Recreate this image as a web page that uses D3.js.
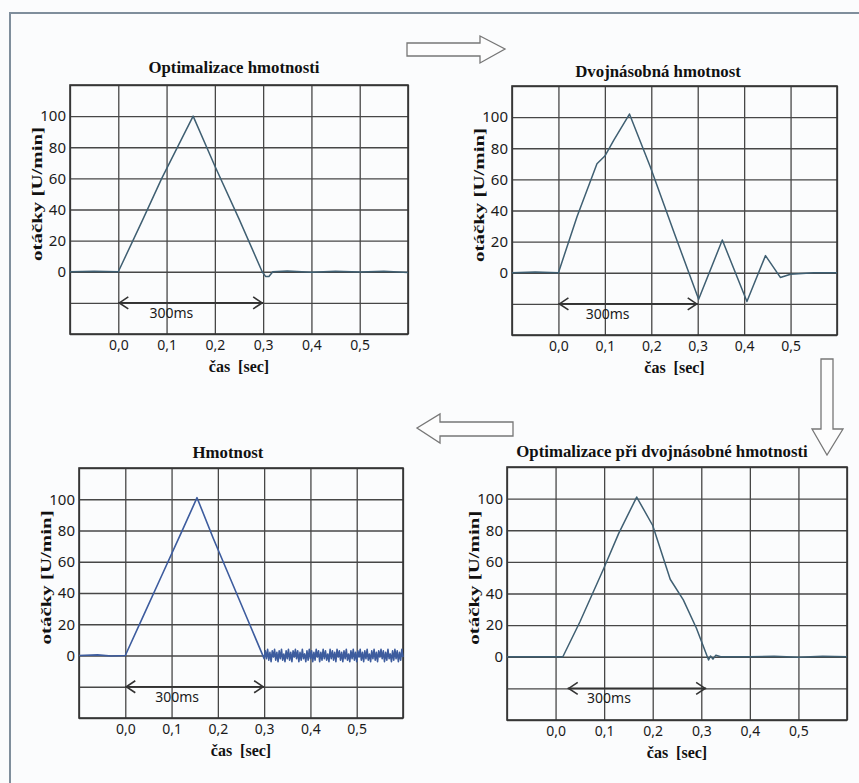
<!DOCTYPE html>
<html>
<head>
<meta charset="utf-8">
<script src="https://cdn.jsdelivr.net/npm/d3@7"></script>
<style>
  body { margin: 0; background: #fbfcfd; }
</style>
</head>
<body>
<div id="chart"></div>
<script>
// values (time in sec, speed in U/min)
const xTicks = [0, 0.1, 0.2, 0.3, 0.4, 0.5];
const yTicks = [0, 20, 40, 60, 80, 100];
const gridX = [-0.1, 0, 0.1, 0.2, 0.3, 0.4, 0.5, 0.6];
const gridY = [-40, -20, 0, 20, 40, 60, 80, 100, 120];

// Optimalizace hmotnosti
const optTime  = [-0.1, -0.05, 0, 0.05, 0.09, 0.155, 0.2, 0.25, 0.298, 0.305, 0.312, 0.32, 0.35, 0.4, 0.45, 0.5, 0.55, 0.6];
const optSpeed = [0, 0.3, 0, 33, 60, 100, 68, 34, 0, -3, -3, 0, 0.5, -0.3, 0.4, -0.2, 0.3, -0.5];

// Dvojnásobná hmotnost
const dblTime  = [-0.1, -0.05, 0, 0.04, 0.083, 0.1, 0.119, 0.153, 0.198, 0.25, 0.302, 0.353, 0.406, 0.446, 0.478, 0.5, 0.55, 0.6];
const dblSpeed = [0, 0.5, 0, 36, 70, 75, 85, 102, 68, 25, -17, 21, -18.5, 11, -3, -1, 0, 0];

// Hmotnost (ramp, then a noisy band after 0.3 s)
const hmTime  = [-0.1, -0.06, -0.03, 0, 0.04, 0.08, 0.12, 0.155, 0.19, 0.23, 0.27, 0.3,
  0.3025, 0.305, 0.3075, 0.31, 0.3125, 0.315, 0.3175, 0.32, 0.3225, 0.325,
  0.3275, 0.33, 0.3325, 0.335, 0.3375, 0.34, 0.3425, 0.345, 0.3475, 0.35,
  0.3525, 0.355, 0.3575, 0.36, 0.3625, 0.365, 0.3675, 0.37, 0.3725, 0.375,
  0.3775, 0.38, 0.3825, 0.385, 0.3875, 0.39, 0.3925, 0.395, 0.3975, 0.4,
  0.4025, 0.405, 0.4075, 0.41, 0.4125, 0.415, 0.4175, 0.42, 0.4225, 0.425,
  0.4275, 0.43, 0.4325, 0.435, 0.4375, 0.44, 0.4425, 0.445, 0.4475, 0.45,
  0.4525, 0.455, 0.4575, 0.46, 0.4625, 0.465, 0.4675, 0.47, 0.4725, 0.475,
  0.4775, 0.48, 0.4825, 0.485, 0.4875, 0.49, 0.4925, 0.495, 0.4975, 0.5,
  0.5025, 0.505, 0.5075, 0.51, 0.5125, 0.515, 0.5175, 0.52, 0.5225, 0.525,
  0.5275, 0.53, 0.5325, 0.535, 0.5375, 0.54, 0.5425, 0.545, 0.5475, 0.55,
  0.5525, 0.555, 0.5575, 0.56, 0.5625, 0.565, 0.5675, 0.57, 0.5725, 0.575,
  0.5775, 0.58, 0.5825, 0.585, 0.5875, 0.59, 0.5925, 0.595, 0.5975, 0.6];
const hmSpeed = [0, 0.4, -0.3, 0, 26, 52, 78, 101, 75, 47, 19, -2,
  3, -2, 4, -3, 2, -4, 3, -1, 4, -3,
  2, -4, 3, -2, 4, -3, 1, -4, 3, -2,
  4, -3, 2, -4, 3, -1, 4, -2, 3, -4,
  2, -3, 4, -2, 1, -4, 3, -3, 4, -2,
  3, -4, 2, -3, 4, -1, 3, -4, 2, -3,
  4, -2, 3, -3, 1, -4, 4, -2, 3, -3,
  2, -4, 4, -1, 3, -3, 2, -4, 3, -2,
  4, -3, 1, -4, 3, -2, 4, -3, 2, -4,
  3, -1, 4, -3, 2, -4, 3, -2, 4, -3,
  1, -4, 3, -2, 4, -3, 2, -4, 3, -1,
  4, -2, 3, -4, 2, -3, 4, -2, 1, -4,
  3, -3, 4, -2, 3, -4, 2, -3, 4, -1];

// Optimalizace při dvojnásobné hmotnosti
const opt2Time  = [-0.1, -0.05, 0.015, 0.05, 0.098, 0.13, 0.167, 0.2, 0.236, 0.263, 0.29, 0.315, 0.319, 0.324, 0.33, 0.34, 0.4, 0.45, 0.5, 0.55, 0.6];
const opt2Speed = [0, 0, 0, 22, 55, 78, 101, 83, 49, 36, 18, -2, 0.5, -1.5, 1, 0, 0, 0.3, -0.3, 0.3, 0];

// 300 ms span markers
const spanStart = [0, 0, 0, 0.025];
const spanEnd   = [0.3, 0.3, 0.3, 0.31];
const spanLabelAt = [0.11, 0.106, 0.112, 0.11];

const titles = ["Optimalizace hmotnosti", "Dvojnásobná hmotnost", "Hmotnost", "Optimalizace při dvojnásobné hmotnosti"];

const panels = [
  {time: optTime,  speed: optSpeed,  left: 70,  right: 408, top: 85,  bottom: 334, titleX: 234, titleY: 73,  color: "#3f5f72", lw: 1.5},
  {time: dblTime,  speed: dblSpeed,  left: 512, right: 837, top: 86,  bottom: 335, titleX: 658, titleY: 77,  color: "#3f5f72", lw: 1.5},
  {time: hmTime,   speed: hmSpeed,   left: 79,  right: 403, top: 468, bottom: 718, titleX: 228, titleY: 458, color: "#3d5c9e", lw: 1.6},
  {time: opt2Time, speed: opt2Speed, left: 507, right: 847, top: 467, bottom: 720, titleX: 662, titleY: 457, color: "#3f5f72", lw: 1.5}
];

const svg = d3.select("#chart")
  .append("svg")
  .attr("width", 859)
  .attr("height", 783);

// page border of the scan
svg.append("path")
  .attr("d", "M10,783 L10,13 L859,13")
  .attr("fill", "none")
  .attr("stroke", "#7f8e9c")
  .attr("stroke-width", 2);

// big outline arrows between the panels
const arrowStyle = sel => sel.attr("fill", "#fdfdfd").attr("stroke", "#777").attr("stroke-width", 1.3);
svg.append("path")
  .attr("d", "M407,43 L480,43 L480,36 L505,49 L480,63 L480,56 L407,56 Z")
  .call(arrowStyle);
svg.append("path")
  .attr("d", "M821,359 L833,359 L833,429 L843,429 L827,455 L812,429 L821,429 Z")
  .call(arrowStyle);
svg.append("path")
  .attr("d", "M513,422 L440,422 L440,414 L417,428 L440,443 L440,436 L513,436 Z")
  .call(arrowStyle);

const commaFmt = d => d3.format(".1f")(d).replace(".", ",");

panels.forEach(function(p, i) {
  const w = p.right - p.left,
        h = p.bottom - p.top;

  const g = svg.append("g")
    .attr("transform", `translate(${p.left},${p.top})`);

  const x = d3.scaleLinear().domain([-0.1, 0.6]).range([0, w]);
  const y = d3.scaleLinear().domain([-40, 120]).range([h, 0]);

  // grid + x labels
  const xAxis = g.append("g")
    .attr("transform", `translate(0,${h})`)
    .call(d3.axisBottom(x)
      .tickValues(gridX)
      .tickSize(-h)
      .tickPadding(6)
      .tickFormat(d => xTicks.includes(d) ? commaFmt(d) : ""));

  const yAxis = g.append("g")
    .call(d3.axisLeft(y)
      .tickValues(gridY)
      .tickSize(-w)
      .tickPadding(4)
      .tickFormat(d => yTicks.includes(d) ? d : ""));

  [xAxis, yAxis].forEach(a => {
    a.select(".domain").remove();
    a.selectAll(".tick line").attr("stroke", "#474747").attr("stroke-width", 1.3);
    a.selectAll(".tick text")
      .attr("fill", "#1a1a1a")
      .style("font-family", "'Noto Sans', 'Open Sans', sans-serif");
  });
  xAxis.selectAll(".tick text").style("font-size", "14px");
  yAxis.selectAll(".tick text").style("font-size", "15px");

  g.append("rect")
    .attr("width", w)
    .attr("height", h)
    .attr("fill", "none")
    .attr("stroke", "#333")
    .attr("stroke-width", 1.6);

  // 300ms double arrow
  const ay = y(-20);
  g.append("line")
    .attr("x1", x(spanStart[i])).attr("x2", x(spanEnd[i]))
    .attr("y1", ay).attr("y2", ay)
    .attr("stroke", "#333").attr("stroke-width", 1.6);
  g.append("path")
    .attr("d", `M${x(spanStart[i]) + 10},${ay - 6} L${x(spanStart[i]) + 1},${ay} L${x(spanStart[i]) + 10},${ay + 6}`)
    .attr("fill", "none").attr("stroke", "#333").attr("stroke-width", 1.6);
  g.append("path")
    .attr("d", `M${x(spanEnd[i]) - 10},${ay - 6} L${x(spanEnd[i]) - 1},${ay} L${x(spanEnd[i]) - 10},${ay + 6}`)
    .attr("fill", "none").attr("stroke", "#333").attr("stroke-width", 1.6);
  g.append("text")
    .attr("x", x(spanLabelAt[i]))
    .attr("y", ay + 15)
    .attr("text-anchor", "middle")
    .style("font-family", "'Noto Sans', 'Open Sans', sans-serif")
    .style("font-size", "14px")
    .attr("fill", "#1a1a1a")
    .text("300ms");

  // the measured speed trace
  const data = p.time.map((t, k) => ({t: t, v: p.speed[k]}));
  g.append("path")
    .datum(data)
    .attr("fill", "none")
    .attr("stroke", p.color)
    .attr("stroke-width", p.lw)
    .attr("stroke-linejoin", "round")
    .attr("d", d3.line()
      .x(d => x(d.t))
      .y(d => y(d.v)));

  // title and axis labels
  svg.append("text")
    .attr("x", p.titleX)
    .attr("y", p.titleY)
    .attr("text-anchor", "middle")
    .style("font-family", "'Liberation Serif', serif")
    .style("font-weight", "bold")
    .style("font-size", "16.8px")
    .attr("fill", "#111")
    .text(titles[i]);

  g.append("text")
    .attr("x", w / 2)
    .attr("y", h + 38)
    .attr("text-anchor", "middle")
    .style("font-family", "'Liberation Serif', serif")
    .style("font-weight", "bold")
    .style("font-size", "16px")
    .style("white-space", "pre")
    .attr("fill", "#111")
    .text("čas  [sec]");

  g.append("text")
    .attr("transform", `translate(-28,${y(50)}) rotate(-90)`)
    .attr("text-anchor", "middle")
    .attr("textLength", 134)
    .attr("lengthAdjust", "spacingAndGlyphs")
    .style("font-family", "'Liberation Serif', serif")
    .style("font-weight", "bold")
    .style("font-size", "15px")
    .attr("fill", "#111")
    .text("otáčky [U/min]");
});
</script>
</body>
</html>
